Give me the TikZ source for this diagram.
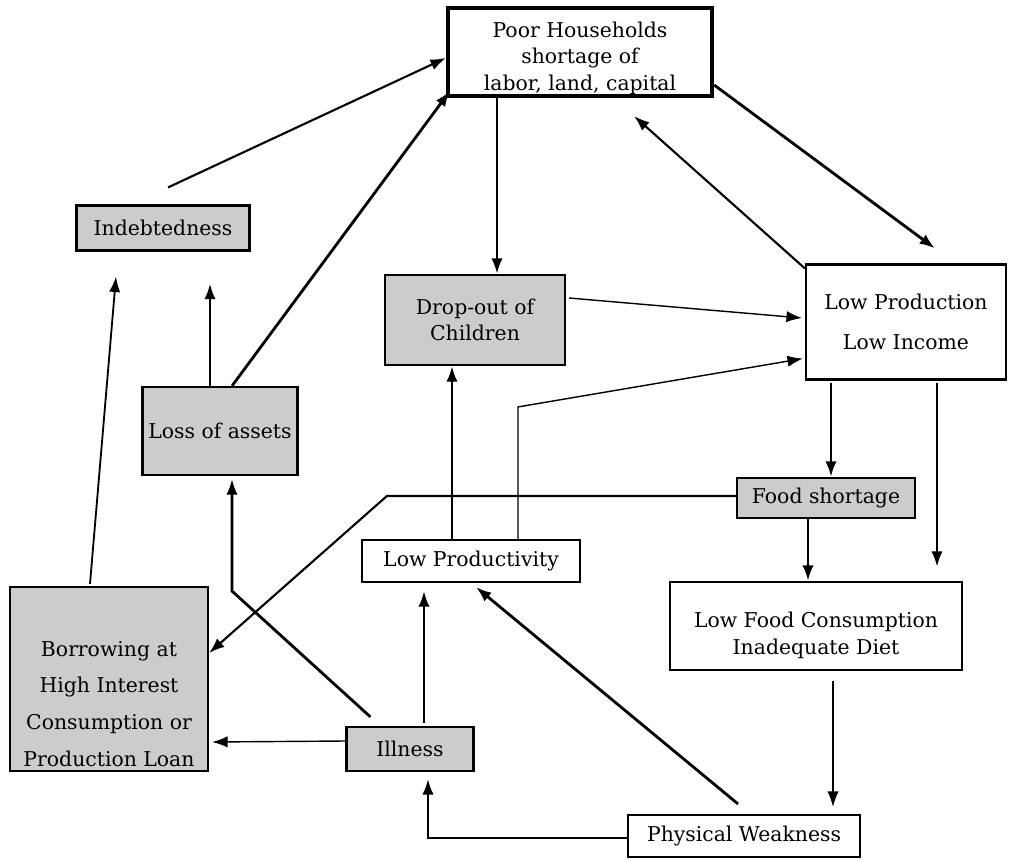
\documentclass[tikz,border=0pt]{standalone}
\usepackage{fontspec}
\setmainfont{DejaVu Serif}
\usetikzlibrary{arrows.meta}

\begin{document}
\begin{tikzpicture}[x=0.025cm,y=-0.025cm,
    box/.style={draw,line width=1.5pt,align=center,inner sep=0pt,
        font=\fontsize{14.5}{19}\selectfont},
    greybox/.style={box,fill=black!20},
    heavy/.style={-{Latex[length=11pt,width=8pt]},line width=2pt},
    light/.style={-{Latex[length=11pt,width=8pt]},line width=1pt}]
    \useasboundingbox (0,0) rectangle (1012,860);

    % boxes
    \node[box,line width=3pt,minimum width=6.6cm,minimum height=2.2cm] (poor) at (580,52)
        {\rule{0pt}{20pt}Poor Households\\shortage of\\labor, land, capital};
    \node[greybox,minimum width=4.325cm,minimum height=1.125cm] (debt) at (163,228) {Indebtedness};
    \node[greybox,minimum width=4.5cm,minimum height=2.25cm] (dropout) at (475,320) {Drop-out of\\Children};
    \node[box,minimum width=5cm,minimum height=2.875cm] (lowprod) at (906,322)
        {Low Production\\[10pt]Low Income};
    \node[greybox,minimum width=3.875cm,minimum height=2.2cm] (assets) at (220,431) {Loss of assets};
    \node[greybox,minimum width=4.45cm,minimum height=1cm] (food) at (826,498) {Food shortage};
    \node[box,minimum width=5.45cm,minimum height=1.05cm] (lowpy) at (471,561) {Low Productivity};
    \node[box,minimum width=7.3cm,minimum height=2.2cm] (diet) at (816,626)
        {\rule{0pt}{24pt}Low Food Consumption\\Inadequate Diet};
    \node[greybox,minimum width=4.95cm,minimum height=4.6cm,font=\fontsize{14.5}{26}\selectfont] (borrow) at (109,679)
        {\rule{0pt}{46pt}Borrowing at\\High Interest\\Consumption or\\Production Loan};
    \node[greybox,minimum width=3.175cm,minimum height=1.1cm] (illness) at (410,749) {Illness};
    \node[box,minimum width=5.8cm,minimum height=1.05cm] (weak) at (744,836) {Physical Weakness};

    % links
    \draw[heavy,line width=1.5pt] ([shift={(5,-17)}]debt.north) -- ([shift={(0,6)}]poor.west);
    \draw[heavy] ([shift={(12,0)}]assets.north) -- ([shift={(4,-7)}]poor.south west);
    \draw[heavy] ([shift={(-10,0)}]assets.north) -- ([shift={(47,32)}]debt.south);
    \draw[heavy] ([shift={(-83,0)}]poor.south) -- ([shift={(22,0)}]dropout.north);
    \draw[heavy] ([shift={(0,33)}]poor.east) -- ([shift={(29,-15)}]lowprod.north);
    \draw[light,line width=1.5pt] ([shift={(0,5)}]lowprod.north west) -- ([shift={(-80,18)}]poor.south east);
    \draw[light] ([shift={(3,-22)}]dropout.east) -- ([shift={(-3,-4)}]lowprod.west);
    \draw[light] ([shift={(47,0)}]lowpy.north) -- ([shift={(47,-132)}]lowpy.north)
        -- ([shift={(-2,-22)}]lowprod.south west);
    \draw[heavy] ([shift={(-19,0)}]lowpy.north) -- ([shift={(-23,0)}]dropout.south);
    \draw[heavy] ([shift={(-75,2)}]lowprod.south) -- ([shift={(5,0)}]food.north);
    \draw[heavy] ([shift={(31,2)}]lowprod.south) -- ([shift={(121,-14)}]diet.north);
    \draw[heavy] ([shift={(-18,0)}]food.south) -- ([shift={(-8,0)}]diet.north);
    \draw[light,line width=1.5pt] ([shift={(0,-2)}]food.west) -- ([shift={(-349,-2)}]food.west)
        -- ([shift={(0,-26)}]borrow.east);
    \draw[light] ([shift={(17,10)}]diet.south) -- ([shift={(89,-7)}]weak.north);
    \draw[light,line width=1.5pt] ([shift={(0,2)}]weak.west) -| ([shift={(18,7)}]illness.south);
    \draw[heavy] ([shift={(-6,-10)}]weak.north) -- ([shift={(5,4)}]lowpy.south);
    \draw[heavy] ([shift={(14,-3)}]illness.north) -- ([shift={(-47,8)}]lowpy.south);
    \draw[heavy] ([shift={(25,-9)}]illness.north west) -- ([shift={(12,115)}]assets.south)
        -- ([shift={(12,3)}]assets.south);
    \draw[light] ([shift={(0,-8)}]illness.west) -- ([shift={(3,63)}]borrow.east);
    \draw[light,line width=1.3pt] ([shift={(-19,-2)}]borrow.north) -- ([shift={(-47,25)}]debt.south);
\end{tikzpicture}
\end{document}
